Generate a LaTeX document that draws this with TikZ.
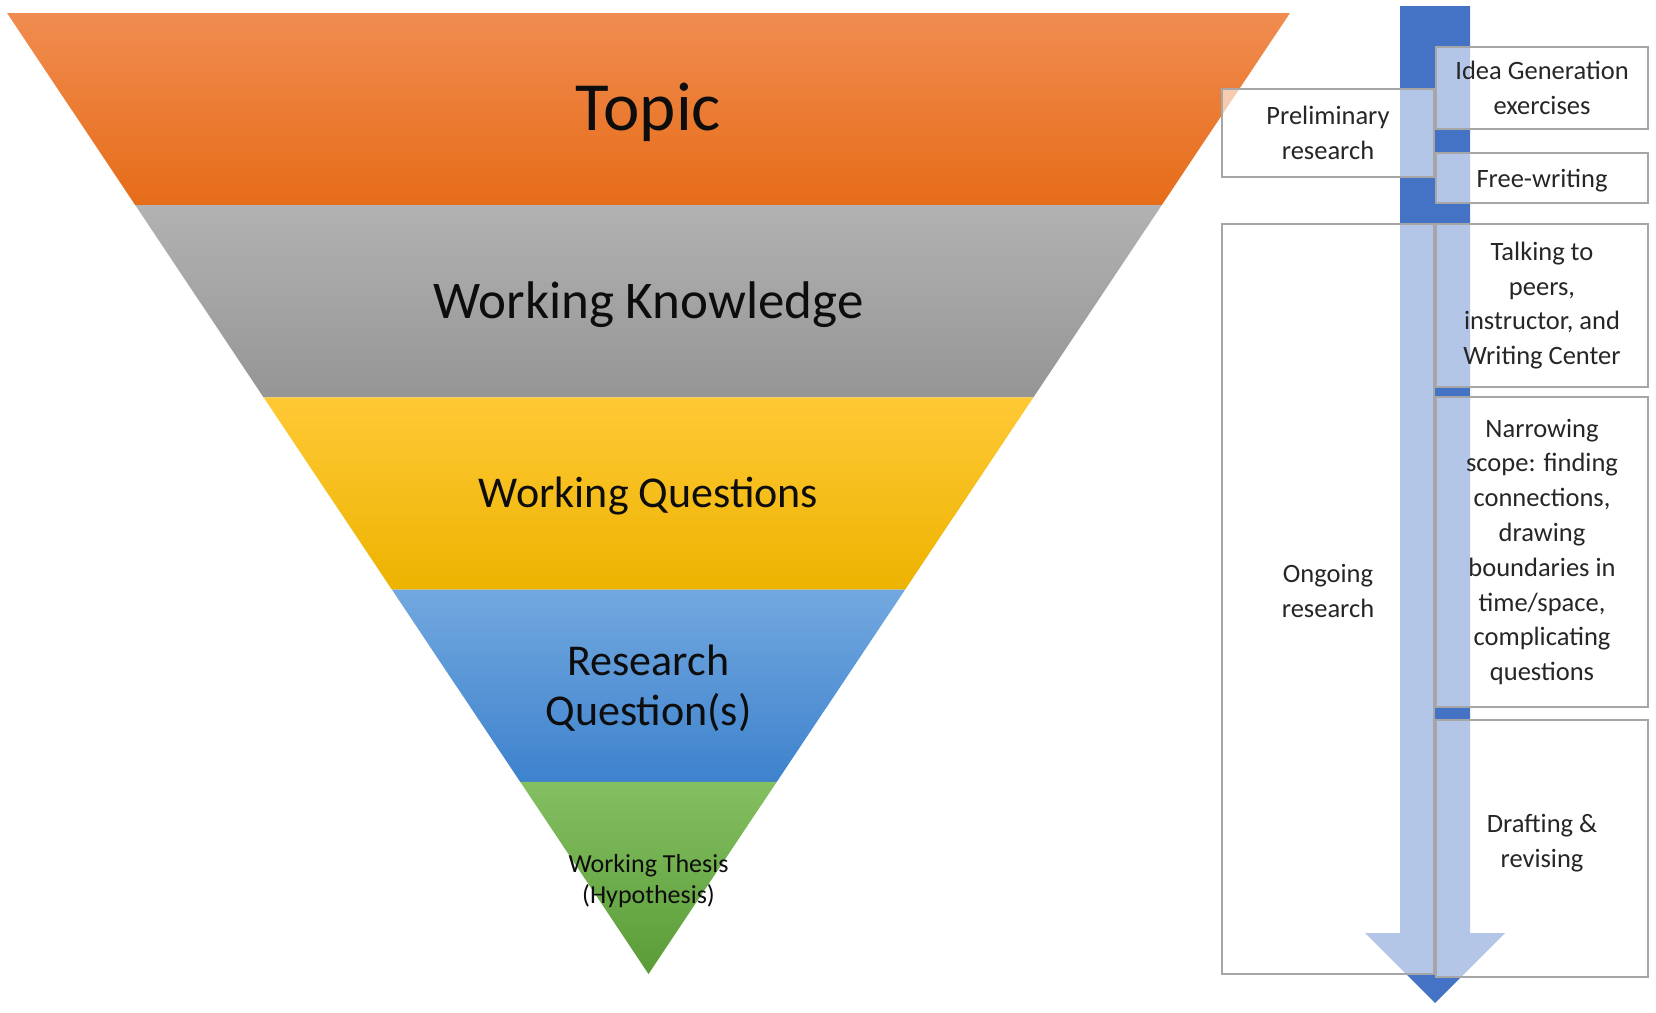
\documentclass[tikz,border=0pt]{standalone}
\usepackage{fontspec}
\setmainfont{Carlito}
\usetikzlibrary{calc,positioning}

\definecolor{orangetop}{HTML}{F08C50}
\definecolor{orangemid}{HTML}{F57D28}
\definecolor{orangebot}{HTML}{E66C18}
\definecolor{graytop}{HTML}{B2B2B2}
\definecolor{graymid}{HTML}{A6A6A6}
\definecolor{graybot}{HTML}{959595}
\definecolor{yellowtop}{HTML}{FFC936}
\definecolor{yellowmid}{HTML}{FFC000}
\definecolor{yellowbot}{HTML}{EDB300}
\definecolor{bluetop}{HTML}{72A8DF}
\definecolor{bluemid}{HTML}{5596D8}
\definecolor{bluebot}{HTML}{3E82CD}
\definecolor{greentop}{HTML}{84BF62}
\definecolor{greenmid}{HTML}{70AF4C}
\definecolor{greenbot}{HTML}{5A9C37}
\definecolor{arrowblue}{HTML}{4472C4}
\definecolor{boxgray}{HTML}{A6A6A6}
\definecolor{sidetext}{HTML}{262626}

\tikzset{
  sidebox/.style={draw=boxgray, line width=1.6pt, fill=white, fill opacity=0.6,
    text opacity=1, text=sidetext, align=center, inner sep=0pt,
    minimum width=212pt, font=\fontsize{26.5}{34.8}\selectfont},
  bandtext/.style={text=black!95, align=center}
}

\begin{document}
\begin{tikzpicture}[x=1pt,y=-1pt]
\useasboundingbox (0,0) rectangle (1656,1012);

% inverted triangle, five bands
\coordinate (tl) at (7,13);
\coordinate (tr) at (1290,13);
\coordinate (apex) at (648.5,974);
\foreach \a/\b/\c in {0/0.2/orange, 0.2/0.4/gray, 0.4/0.6/yellow, 0.6/0.8/blue, 0.8/1/green}
  \shade[top color=\c top, middle color=\c mid, bottom color=\c bot]
    ($(tl)!\a!(apex)$) -- ($(tr)!\a!(apex)$)
    -- ($(tr)!\b!(apex)$) -- ($(tl)!\b!(apex)$) -- cycle;

\node[bandtext, font=\fontsize{69}{80}\selectfont] (topic) at (648.5,112) {Topic};
\node[bandtext, font=\fontsize{53}{62}\selectfont] (knowledge) at (648.5,305) {Working Knowledge};
\node[bandtext, font=\fontsize{44}{52}\selectfont] (questions) at (648.5,496) {Working Questions};
\node[bandtext, font=\fontsize{44}{50}\selectfont] (research) at (648.5,688) {Research\\Question(s)};
\node[bandtext, font=\fontsize{26}{31}\selectfont] (thesis) at (648.5,881) {Working Thesis\\(Hypothesis)};

% process arrow behind the boxes
\fill[arrowblue] (1400,6) -- (1470,6) -- (1470,933) -- (1505,933) -- (1435,1003)
  -- (1365,933) -- (1400,933) -- cycle;

% left column
\node[sidebox, minimum height=88pt] (prelim) at (1328,133) {Preliminary\\research};
\node[sidebox, minimum height=750pt, text depth=17pt] (ongoing) at (1328,599) {Ongoing\\research};

% right column
\node[sidebox, minimum height=82pt] (idea) at (1542,88) {Idea Generation\\exercises};
\node[sidebox, minimum height=50pt, text height=23pt] (freewrite) at (1542,178) {Free-writing};
\node[sidebox, minimum height=163pt] (talking) at (1542,305.5) {Talking to\\peers,\\instructor, and\\Writing Center};
\node[sidebox, minimum height=310pt] (narrowing) at (1542,552) {Narrowing\\scope: finding\\connections,\\drawing\\boundaries in\\time/space,\\complicating\\questions};
\node[sidebox, minimum height=257pt, text depth=15.5pt] (drafting) at (1542,848.5) {Drafting \&\\revising};
\end{tikzpicture}
\end{document}
